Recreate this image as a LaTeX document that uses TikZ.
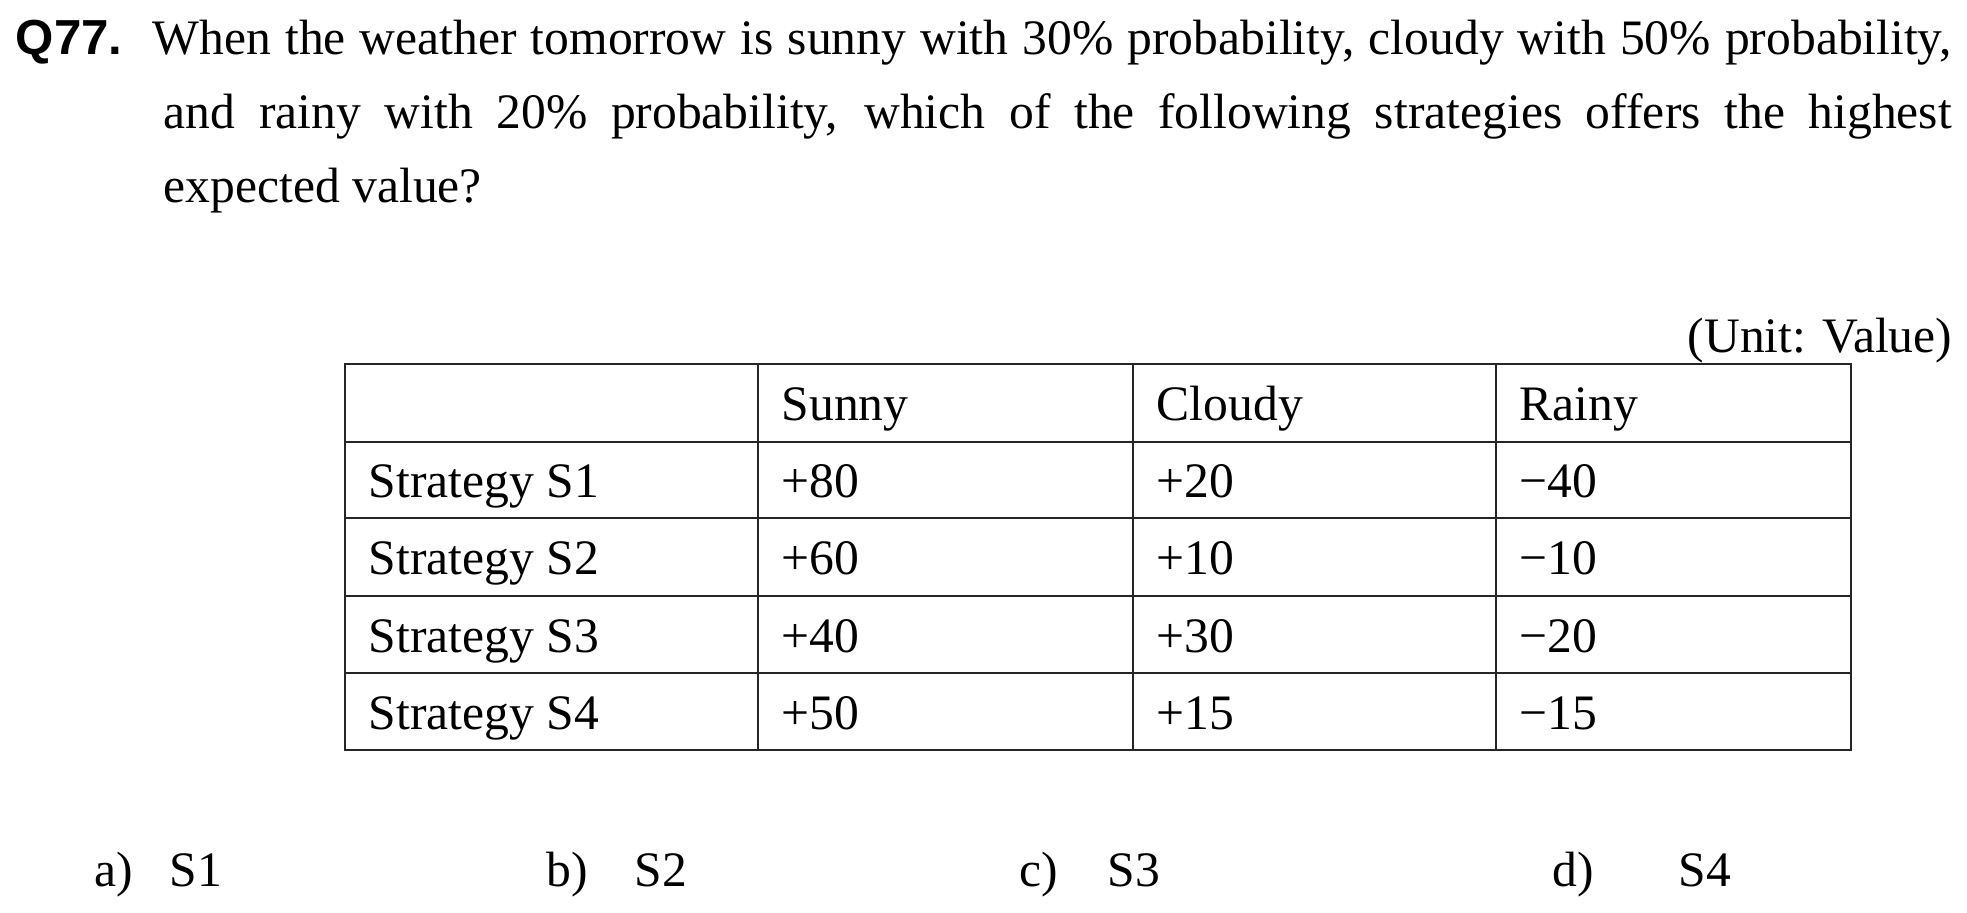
\documentclass[tikz,border=0pt]{standalone}
\usepackage{fontspec}
\setmainfont{Liberation Serif}
\newfontfamily\qsans{Liberation Sans}
\begin{document}
\begin{tikzpicture}[x=0.25pt,y=-0.25pt,
  every node/.style={inner sep=0pt,font=\fontsize{12.4}{18.6}\selectfont},
  cell/.style={anchor=base west},
  rule/.style={draw=black!85,line width=0.45pt}]
\useasboundingbox (0,0) rectangle (1967,912);
% question
\node[anchor=base west,font=\qsans\bfseries\fontsize{12.3}{15}\selectfont] (qnum) at (15,54) {Q77.};
\node[anchor=base west,text width=447pt,align=justify] (question) at (163,54)
  {\hyphenpenalty=10000\exhyphenpenalty=10000\emergencystretch=20pt
   \hspace*{-2.75pt}When the weather tomorrow is sunny with 30\% probability, cloudy with 50\% probability,\linebreak
   and rainy with 20\% probability, which of the following strategies offers the highest\linebreak
   expected value?};
\node[anchor=base east] (unit) at (1953,352) {(Unit: Value)};
% table
\draw[rule] (345,364) rectangle (1851,750);
\foreach \y in {442,518,596,673}
  \draw[rule] (345,\y) -- (1851,\y);
\foreach \x in {758,1133,1496}
  \draw[rule] (\x,364) -- (\x,750);
\node[cell] (sunny) at (781,420) {Sunny};
\node[cell] (cloudy) at (1156,420) {Cloudy};
\node[cell] (rainy) at (1519,420) {Rainy};
\foreach \i/\a/\b/\c/\y in {1/+80/+20/−40/497, 2/+60/+10/−10/574,
                           3/+40/+30/−20/652, 4/+50/+15/−15/729}{
  \node[cell] (s\i) at (368,\y) {Strategy S\i};
  \node[cell] (s\i sunny) at (781,\y) {\a};
  \node[cell] (s\i cloudy) at (1156,\y) {\b};
  \node[cell] (s\i rainy) at (1519,\y) {\c};
}
% answers
\node[cell] (opta) at (94,886) {a)};
\node[cell] (ansa) at (169,886) {S1};
\node[cell] (optb) at (546,886) {b)};
\node[cell] (ansb) at (634,886) {S2};
\node[cell] (optc) at (1019,886) {c)};
\node[cell] (ansc) at (1107,886) {S3};
\node[cell] (optd) at (1552,886) {d)};
\node[cell] (ansd) at (1678,886) {S4};
\end{tikzpicture}
\end{document}
